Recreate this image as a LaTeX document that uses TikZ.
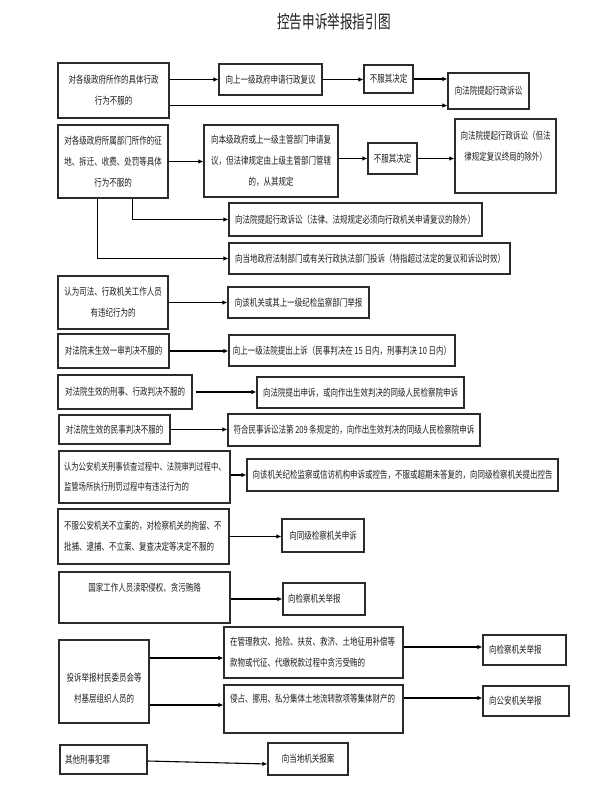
\documentclass[tikz,border=0pt]{standalone}
\usepackage{fontspec}
\usetikzlibrary{arrows.meta,calc}
\newfontfamily\cjk[FakeStretch=0.75]{Noto Sans CJK SC}
\newfontfamily\cjktitle[FakeStretch=0.7]{Noto Sans CJK SC}
\newcommand\bodyfont{\cjk\fontsize{10}{21}\selectfont}
\newcommand\narrowfont{\cjk\fontsize{9.8}{20}\selectfont}
\newcommand\titlefont{\cjktitle\fontsize{18}{22}\selectfont}
\definecolor{boxc}{HTML}{2b2b2b}
\definecolor{txtc}{HTML}{1e1e1e}
\begin{document}
\begin{tikzpicture}[x=1pt,y=-1pt,
  box/.style={draw=boxc, line width=1.1pt, inner sep=0pt, align=center, text=txtc, font=\bodyfont},
  lbox/.style={box, align=left, inner xsep=6pt},
  arr/.style={draw=black, line width=1.1pt, -{Latex[length=5pt,width=4.5pt]}},
  titletext/.style={text=txtc, font=\titlefont, inner sep=0pt}]
\useasboundingbox[fill=white] (0,0) rectangle (600,800);

\node[titletext] (title) at (334,22) {控告申诉举报指引图};

% row 1
\node[box, minimum width=111pt, minimum height=55pt] (A1) at (113.5,90.5) {对各级政府所作的具体行政\\行为不服的};
\node[box, minimum width=103pt, minimum height=31pt] (B1) at (270.5,79.5) {向上一级政府申请行政复议};
\node[box, minimum width=49pt, minimum height=28pt] (C1) at (388.5,79) {不服其决定};
\node[box, minimum width=81pt, minimum height=36pt] (D1) at (488.5,91) {向法院提起行政诉讼};

% row 2
\node[box, minimum width=110pt, minimum height=73pt] (A2) at (113,161.5) {对各级政府所属部门所作的征\\地、拆迁、收费、处罚等具体\\行为不服的};
\node[box, minimum width=134pt, minimum height=72pt] (B2) at (271,161) {向本级政府或上一级主管部门申请复\\议，但法律规定由上级主管部门管辖\\的，从其规定};
\node[box, minimum width=49pt, minimum height=31pt] (C2) at (392.5,158.5) {不服其决定};
\node[box, minimum width=101pt, minimum height=74pt] (D2) at (505.5,156) {向法院提起行政诉讼（但法\\律规定复议终局的除外）\\\mbox{}};
\node[lbox, text width=241pt, minimum width=253pt, minimum height=33pt] (E2) at (355.5,219.5) {向法院提起行政诉讼（法律、法规规定必须向行政机关申请复议的除外）};
\node[lbox, text width=269pt, minimum width=281pt, minimum height=31pt] (F2) at (369.5,258.5) {向当地政府法制部门或有关行政执法部门投诉（特指超过法定的复议和诉讼时效）};

% rows 3-6
\node[box, minimum width=110pt, minimum height=53pt] (A3) at (113,302.5) {认为司法、行政机关工作人员\\有违纪行为的};
\node[box, minimum width=141pt, minimum height=31pt] (B3) at (298.5,302.5) {向该机关或其上一级纪检监察部门举报};
\node[box, minimum width=111pt, minimum height=34pt] (A4) at (113.5,351) {对法院未生效一审判决不服的};
\node[box, minimum width=226pt, minimum height=31pt] (B4) at (342,350.5) {向上一级法院提出上诉（民事判决在 15 日内，刑事判决 10 日内）};
\node[box, minimum width=134pt, minimum height=34pt] (A5) at (125,392) {对法院生效的刑事、行政判决不服的};
\node[box, minimum width=207pt, minimum height=31pt] (B5) at (360.5,392.5) {向法院提出申诉，或向作出生效判决的同级人民检察院申诉};
\node[box, minimum width=111pt, minimum height=29pt] (A6) at (114.5,429.5) {对法院生效的民事判决不服的};
\node[box, minimum width=252pt, minimum height=32pt] (B6) at (354,430) {符合民事诉讼法第 209 条规定的，向作出生效判决的同级人民检察院申诉};

% rows 7-9
\node[lbox, font=\narrowfont, inner xsep=5pt, text width=161pt, minimum width=171pt, minimum height=52pt] (A7) at (144.5,477) {认为公安机关刑事侦查过程中、法院审判过程中、\\监管场所执行刑罚过程中有违法行为的};
\node[box, minimum width=311pt, minimum height=32pt] (B7) at (402.5,475) {向该机关纪检监察或信访机构申诉或控告，不服或超期未答复的，向同级检察机关提出控告};
\node[lbox, text width=159pt, minimum width=171pt, minimum height=55pt] (A8) at (143.5,536.5) {不服公安机关不立案的，对检察机关的拘留、不\\批捕、逮捕、不立案、复查决定等决定不服的};
\node[box, minimum width=82pt, minimum height=33pt] (B8) at (323,535.5) {向同级检察机关申诉};
\node[box, minimum width=171pt, minimum height=51pt] (A9) at (144.5,597.5) {国家工作人员渎职侵权、贪污贿赂\\\mbox{}};
\node[lbox, inner xsep=5pt, text width=72pt, minimum width=82pt, minimum height=32pt] (B9) at (324,599) {向检察机关举报};

% row 10
\node[box, minimum width=90pt, minimum height=83pt] (A10) at (104,681.5) {\mbox{}\\投诉举报村民委员会等\\村基层组织人员的};
\node[lbox, text width=167pt, minimum width=179pt, minimum height=51pt] (B10a) at (313.5,652.5) {在管理救灾、抢险、扶贫、救济、土地征用补偿等\\款物或代征、代缴税款过程中贪污受贿的};
\node[lbox, text width=167pt, minimum width=179pt, minimum height=48pt] (B10b) at (313.5,709) {侵占、挪用、私分集体土地流转款项等集体财产的\\\mbox{}};
\node[lbox, text width=71pt, minimum width=83pt, minimum height=30pt] (C10a) at (524.5,650) {向检察机关举报};
\node[lbox, text width=74pt, minimum width=86pt, minimum height=30pt] (C10b) at (526,701) {向公安机关举报};

% row 11
\node[lbox, inner xsep=5pt, text width=77pt, minimum width=87pt, minimum height=29pt] (A11) at (103.5,759.5) {其他刑事犯罪};
\node[box, minimum width=80pt, minimum height=32pt] (B11) at (308,759) {向当地机关报案};

% connectors
\coordinate (A1lo) at ($(A1.south east)+(0,-13)$);
\coordinate (A2e) at ($(A2.south west)+(75,0)$);
\coordinate (A2f) at ($(A2.south west)+(40,0)$);
\coordinate (A5out) at ($(A5.east)+(3,0)$);
\coordinate (B10ain) at ($(B10a.west)+(0,5.5)$);
\coordinate (B10bin) at ($(B10b.west)+(0,-4)$);
\coordinate (C10ain) at ($(C10a.west)+(0,-3)$);
\coordinate (C10bin) at ($(C10b.west)+(0,-3)$);
\coordinate (A11out) at ($(A11.east)+(0,1.5)$);
\coordinate (B11in) at ($(B11.west)+(0,5)$);

\draw[arr] (A1.east |- B1.west) -- (B1.west);
\draw[arr] (B1.east) -- (B1.east -| C1.west);
\draw[arr] (C1.east) -- (C1.east -| D1.west);
\draw[arr] (A1lo) -- (A1lo -| D1.west);

\draw[arr] (A2.east) -- (A2.east -| B2.west);
\draw[arr] (B2.east |- C2.west) -- (C2.west);
\draw[arr] (C2.east) -- (C2.east -| D2.west);
\draw[arr] (A2e) |- (E2.west);
\draw[arr] (A2f) |- (F2.west);

\draw[arr] (A3.east) -- (B3.west);
\draw[arr] (A4.east) -- (A4.east -| B4.west);
\draw[arr] (A5out) -- (A5out -| B5.west);
\draw[arr] (A6.east) -- (A6.east -| B6.west);
\draw[arr] (A7.east |- B7.west) -- (B7.west);
\draw[arr] (A8.east) -- (A8.east -| B8.west);
\draw[arr] (A9.east |- B9.west) -- (B9.west);

\draw[arr] (A10.east |- B10ain) -- (B10ain);
\draw[arr] (A10.east |- B10bin) -- (B10bin);
\draw[arr] (B10a.east |- C10ain) -- (C10ain);
\draw[arr] (B10b.east |- C10bin) -- (C10bin);

\draw[arr] (A11out) -- (B11in);
\end{tikzpicture}
\end{document}
